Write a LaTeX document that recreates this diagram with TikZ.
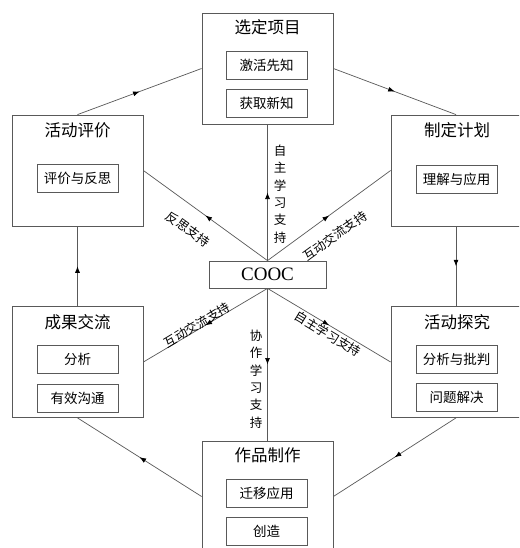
\documentclass[tikz,border=0pt]{standalone}
\usepackage{fontspec}
\setmainfont{Liberation Serif}
\newfontfamily\cjk{Noto Sans CJK SC}
\usetikzlibrary{decorations.markings,arrows.meta}
\begin{document}
\begin{tikzpicture}[x=1pt,y=-1pt,
  outer/.style={draw=black!65, line width=0.8pt, minimum width=131pt, minimum height=111pt, inner sep=0pt},
  innerbox/.style={draw=black!65, line width=0.8pt, minimum width=81pt, minimum height=28pt, inner sep=0pt, font=\cjk\fontsize{13.5}{14}\selectfont},
  titletext/.style={font=\cjk\fontsize{16.5}{17}\selectfont, inner sep=0pt},
  lab/.style={font=\cjk\fontsize{12.5}{13}\selectfont, inner sep=0pt},
  vlab/.style={font=\cjk\fontsize{12.5}{17.4}\selectfont, inner sep=0pt, align=center},
  conn/.style={draw=black!65, line width=0.7pt, postaction={decorate},
    decoration={markings, mark=at position 0.5 with {\arrow[black]{Latex[length=6.5pt,width=5pt]}}}},
]
\useasboundingbox (0,0) rectangle (519,548);
\clip (0,0) rectangle (519,548);
\fill[white] (0,0) rectangle (519,548);

% top
\node[outer] (xd) at (267.5,68.5) {};
\node[titletext] (xdt) at (267.5,27) {选定项目};
\node[innerbox] (xd1) at (266.5,65) {激活先知};
\node[innerbox] (xd2) at (266.5,103) {获取新知};

% upper left
\node[outer] (pj) at (77.5,170.5) {};
\node[titletext] (pjt) at (77.5,130) {活动评价};
\node[innerbox] (pj1) at (77.5,178) {评价与反思};

% upper right
\node[outer, minimum width=130pt] (zd) at (456,170.5) {};
\node[titletext] (zdt) at (457,130) {制定计划};
\node[innerbox] (zd1) at (456.5,179) {理解与应用};

% lower left
\node[outer] (cg) at (77.5,362) {};
\node[titletext] (cgt) at (77.5,322) {成果交流};
\node[innerbox] (cg1) at (77.5,359) {分析};
\node[innerbox] (cg2) at (77.5,398) {有效沟通};

% lower right
\node[outer, minimum width=130pt] (tj) at (456,362) {};
\node[titletext] (tjt) at (457,322) {活动探究};
\node[innerbox] (tj1) at (456.5,359) {分析与批判};
\node[innerbox] (tj2) at (456.5,397) {问题解决};

% bottom
\node[outer] (zp) at (267.5,496.5) {};
\node[titletext] (zpt) at (267.5,455) {作品制作};
\node[innerbox] (zp1) at (266.5,493) {迁移应用};
\node[innerbox] (zp2) at (266.5,531) {创造};

% center
\node[draw=black!65, line width=0.8pt, minimum width=117pt, minimum height=27pt, inner sep=0pt,
  font=\fontsize{19}{19}\selectfont] (cooc) at (267.5,274.5) {COOC};

% cycle
\draw[conn] (pj.north) -- (xd.west);
\draw[conn] (xd.east) -- (zd.north);
\draw[conn] (zd.south) -- (tj.north);
\draw[conn] (tj.south) -- (zp.east);
\draw[conn] (zp.west) -- (cg.south);
\draw[conn] (cg.north) -- (pj.south);

% spokes
\draw[conn] (cooc.north) -- (xd.south);
\draw[conn] (cooc.north) -- (pj.east);
\draw[conn] (cooc.north) -- (zd.west);
\draw[conn] (cooc.south) -- (cg.east);
\draw[conn] (cooc.south) -- (tj.west);
\draw[conn] (cooc.south) -- (zp.north);

% labels
\node[vlab] (l1) at (280,194) {自\\主\\学\\习\\支\\持};
\node[vlab] (l2) at (256,379) {协\\作\\学\\习\\支\\持};
\node[lab, rotate=-36] (l3) at (188,229) {反思支持};
\node[lab, rotate=36] (l4) at (335,236) {互动交流支持};
\node[lab, rotate=31] (l5) at (197,325) {互动交流支持};
\node[lab, rotate=-31] (l6) at (328,334) {自主学习支持};
\end{tikzpicture}
\end{document}
